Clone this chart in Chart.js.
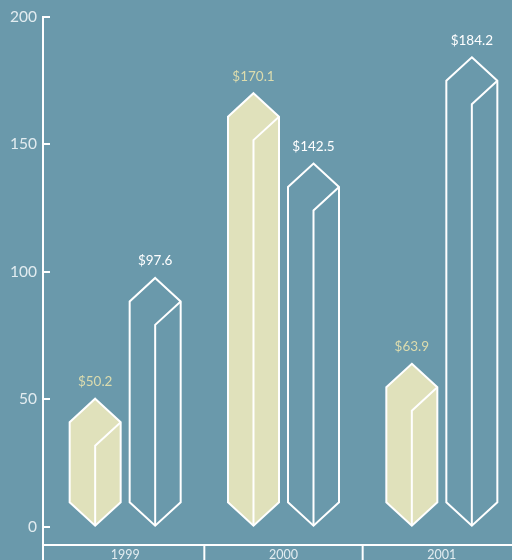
<!DOCTYPE html>
<html>
<head>
<meta charset="utf-8">
<script src="https://cdn.jsdelivr.net/npm/chart.js@4"></script>
<style>
  html, body { margin: 0; padding: 0; overflow: hidden; background: #6a99ab; }
  canvas { display: block; }
</style>
</head>
<body>
<canvas id="chart" width="521" height="560"></canvas>
<script>
// Categories, series and tick labels
const years = ['1999', '2000', '2001'];
const seriesA = [50.2, 170.1, 63.9];
const seriesB = [97.6, 142.5, 184.2];
const yTickValues = [0, 50, 100, 150, 200];

const CREAM = '#e0e1bb';
const CREAM_TEXT = '#dcdcae';
const LINE = '#ffffff';
const TEXT = '#e2ecf0';
const FONT = 'Lato, "Open Sans", sans-serif';

// Draws each bar as a hexagonal prism: pointed top at the value, pointed bottom at zero.
const prismPlugin = {
  id: 'prisms',
  afterDatasetsDraw(chart) {
    const ctx = chart.ctx;
    chart.data.datasets.forEach((ds, di) => {
      const meta = chart.getDatasetMeta(di);
      meta.data.forEach((bar, i) => {
        const { x, y, base, width } = bar.getProps(['x', 'y', 'base', 'width'], true);
        const h = width / 2;
        const L = x - h, R = x + h;
        const d = h * 0.92;
        const B = base - 1;
        ctx.save();
        ctx.lineWidth = 2;
        ctx.strokeStyle = LINE;
        ctx.lineJoin = 'miter';
        ctx.beginPath();
        ctx.moveTo(x, y);
        ctx.lineTo(R, y + d);
        ctx.lineTo(R, B - d);
        ctx.lineTo(x, B);
        ctx.lineTo(L, B - d);
        ctx.lineTo(L, y + d);
        ctx.closePath();
        if (ds.prismFill) {
          ctx.fillStyle = ds.prismFill;
          ctx.fill();
        }
        ctx.stroke();
        // front edge of the prism
        ctx.beginPath();
        ctx.moveTo(R, y + d);
        ctx.lineTo(x, y + 2 * d);
        ctx.lineTo(x, B);
        ctx.stroke();
        // value label
        ctx.fillStyle = ds.labelColor;
        ctx.font = '13.5px ' + FONT;
        ctx.textAlign = 'center';
        ctx.textBaseline = 'middle';
        ctx.fillText('$' + ds.data[i].toFixed(1), x, y - 17);
        ctx.restore();
      });
    });
  }
};

// Axis lines, inward ticks on the value axis and category separators.
const axesPlugin = {
  id: 'axesLines',
  afterDraw(chart) {
    const ctx = chart.ctx;
    const xs = chart.scales.x, ys = chart.scales.y;
    const area = chart.chartArea;
    const axisX = area.left - 3;
    ctx.save();
    ctx.strokeStyle = LINE;
    ctx.lineWidth = 2;
    ctx.beginPath();
    ctx.moveTo(axisX, ys.getPixelForValue(200) - 1);
    ctx.lineTo(axisX, chart.height);
    ctx.stroke();
    ctx.beginPath();
    ctx.moveTo(axisX - 1, area.bottom);
    ctx.lineTo(chart.width, area.bottom);
    ctx.stroke();
    yTickValues.forEach(v => {
      const py = Math.round(ys.getPixelForValue(v));
      ctx.beginPath();
      ctx.moveTo(axisX, py);
      ctx.lineTo(axisX + 7, py);
      ctx.stroke();
    });
    const half = (xs.getPixelForValue(1) - xs.getPixelForValue(0)) / 2;
    for (let i = 1; i < years.length; i++) {
      const px = xs.getPixelForValue(i) - half;
      ctx.beginPath();
      ctx.moveTo(px, area.bottom);
      ctx.lineTo(px, chart.height);
      ctx.stroke();
    }
    ctx.restore();
  }
};

new Chart(document.getElementById('chart'), {
  type: 'bar',
  data: {
    labels: years,
    datasets: [
      {
        label: 'A',
        data: seriesA,
        backgroundColor: 'rgba(0,0,0,0)',
        borderWidth: 0,
        prismFill: CREAM,
        labelColor: CREAM_TEXT,
        categoryPercentage: 0.758,
        barPercentage: 0.85
      },
      {
        label: 'B',
        data: seriesB,
        backgroundColor: 'rgba(0,0,0,0)',
        borderWidth: 0,
        prismFill: null,
        labelColor: LINE,
        categoryPercentage: 0.758,
        barPercentage: 0.85
      }
    ]
  },
  options: {
    responsive: false,
    animation: false,
    events: [],
    layout: { padding: { top: 17, left: 0, right: 0, bottom: 0 } },
    plugins: {
      legend: { display: false },
      tooltip: { enabled: false }
    },
    scales: {
      x: {
        type: 'category',
        grid: { display: false, drawTicks: false, tickLength: 0 },
        border: { display: false },
        ticks: { color: TEXT, font: { family: FONT, size: 12.5 }, padding: 2, maxRotation: 0 },
        afterFit(scale) {
          scale.height = 15;
          scale.paddingLeft = 0;
          scale.paddingRight = 0;
        }
      },
      y: {
        min: -7.2,
        max: 200,
        grid: { display: false, drawTicks: false, tickLength: 0 },
        border: { display: false },
        ticks: { color: TEXT, font: { family: FONT, size: 15.5 }, padding: 9 },
        afterBuildTicks(scale) { scale.ticks = yTickValues.map(v => ({ value: v })); },
        afterFit(scale) {
          scale.width = 46;
          scale.paddingTop = 0;
          scale.paddingBottom = 0;
        }
      }
    }
  },
  plugins: [prismPlugin, axesPlugin]
});
</script>
</body>
</html>
